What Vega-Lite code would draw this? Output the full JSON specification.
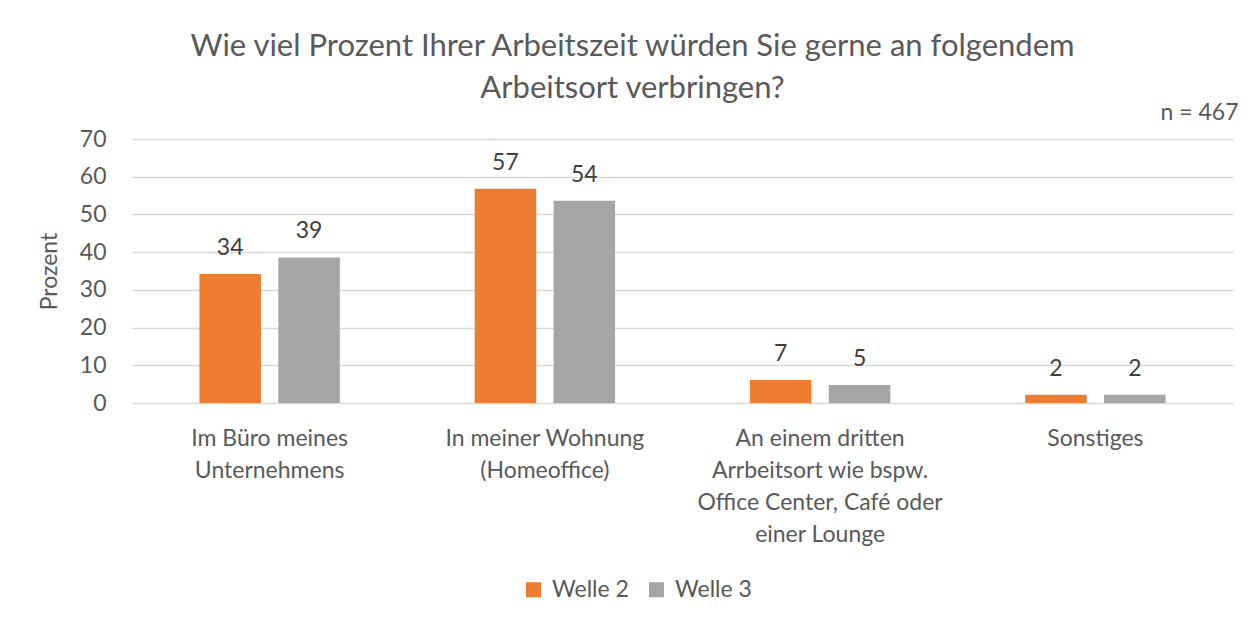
{
  "$schema": "https://vega.github.io/schema/vega-lite/v6.json",
  "width": 1101,
  "height": 264,
  "autosize": {"type": "none"},
  "padding": {"left": 132, "top": 139, "right": 25, "bottom": 225},
  "background": "white",
  "title": {
    "text": ["Wie viel Prozent Ihrer Arbeitszeit würden Sie gerne an folgendem", "Arbeitsort verbringen?"],
    "fontSize": 31,
    "fontWeight": "normal",
    "color": "#595959",
    "lineHeight": 42,
    "anchor": "middle",
    "frame": "group",
    "dx": -50,
    "offset": -4
  },
  "data": {
    "values": [
      {"kategorie": "Im Büro meines|Unternehmens", "welle": "Welle 2", "wert": 34.2, "label": "34"},
      {"kategorie": "Im Büro meines|Unternehmens", "welle": "Welle 3", "wert": 38.6, "label": "39"},
      {"kategorie": "In meiner Wohnung|(Homeoffice)", "welle": "Welle 2", "wert": 56.8, "label": "57"},
      {"kategorie": "In meiner Wohnung|(Homeoffice)", "welle": "Welle 3", "wert": 53.6, "label": "54"},
      {"kategorie": "An einem dritten|Arrbeitsort wie bspw.|Office Center, Café oder|einer Lounge", "welle": "Welle 2", "wert": 6.1, "label": "7"},
      {"kategorie": "An einem dritten|Arrbeitsort wie bspw.|Office Center, Café oder|einer Lounge", "welle": "Welle 3", "wert": 4.8, "label": "5"},
      {"kategorie": "Sonstiges", "welle": "Welle 2", "wert": 2.2, "label": "2"},
      {"kategorie": "Sonstiges", "welle": "Welle 3", "wert": 2.2, "label": "2"}
    ]
  },
  "encoding": {
    "x": {
      "field": "kategorie",
      "type": "nominal",
      "sort": null,
      "scale": {"paddingInner": 0.49, "paddingOuter": 0.245}
    },
    "xOffset": {
      "field": "welle",
      "type": "nominal",
      "scale": {"paddingInner": 0.22, "paddingOuter": 0}
    },
    "y": {
      "field": "wert",
      "type": "quantitative",
      "scale": {"domain": [0, 70], "nice": false},
      "axis": {
        "values": [0, 10, 20, 30, 40, 50, 60, 70],
        "title": "Prozent",
        "titleFontSize": 23,
        "titleFontWeight": "normal",
        "titleColor": "#595959",
        "titlePadding": 18,
        "labelFontSize": 23,
        "labelColor": "#595959",
        "labelPadding": 26,
        "ticks": false,
        "domain": false,
        "grid": true,
        "gridColor": "#D9D9D9",
        "gridWidth": 1.3
      }
    }
  },
  "layer": [
    {
      "mark": {"type": "bar"},
      "encoding": {
        "x": {
          "field": "kategorie",
          "type": "nominal",
          "sort": null,
          "scale": {"paddingInner": 0.49, "paddingOuter": 0.245},
          "axis": {
            "orient": "bottom",
            "title": null,
            "labelExpr": "split(datum.label, '|')",
            "labelAngle": 0,
            "labelFontSize": 23,
            "labelColor": "#595959",
            "labelLineHeight": 32,
            "labelPadding": 24,
            "labelLimit": 0,
            "ticks": false,
            "domain": false,
            "grid": false
          }
        },
        "color": {
          "field": "welle",
          "type": "nominal",
          "scale": {"domain": ["Welle 2", "Welle 3"], "range": ["#ED7D31", "#A5A5A5"]},
          "legend": {
            "orient": "none",
            "legendX": 390,
            "legendY": 439,
            "direction": "horizontal",
            "title": null,
            "symbolType": "square",
            "symbolSize": 225,
            "symbolStrokeWidth": 0,
            "labelFontSize": 23,
            "labelColor": "#595959",
            "labelOffset": 7,
            "columnPadding": 16
          }
        }
      }
    },
    {
      "mark": {"type": "text", "baseline": "alphabetic", "dy": -19, "fontSize": 23, "color": "#404040"},
      "encoding": {
        "x": {
          "field": "kategorie",
          "type": "nominal",
          "sort": null,
          "scale": {"paddingInner": 0.49, "paddingOuter": 0.245},
          "axis": {
            "orient": "top",
            "title": "n = 467",
            "titleAnchor": "end",
            "titleAlign": "right",
            "titleFontSize": 23,
            "titleFontWeight": "normal",
            "titleColor": "#595959",
            "titlePadding": 15,
            "titleX": 1106,
            "labels": false,
            "ticks": false,
            "domain": false,
            "grid": false
          }
        },
        "text": {"field": "label", "type": "nominal"}
      }
    }
  ],
  "resolve": {"axis": {"x": "independent"}},
  "config": {
    "font": "Lato",
    "view": {"stroke": null}
  }
}
